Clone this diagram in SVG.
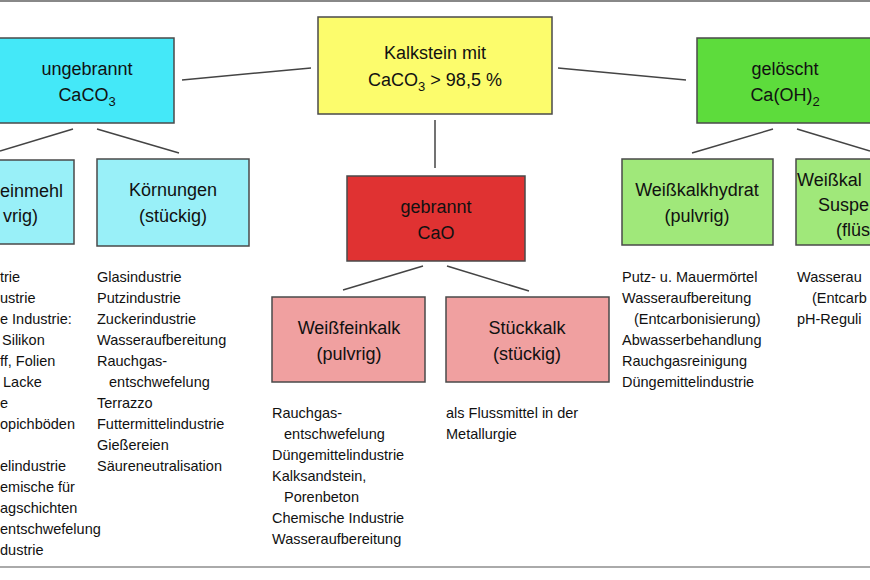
<svg xmlns="http://www.w3.org/2000/svg" width="870" height="580" viewBox="0 0 870 580">
<style>
.b{stroke:#4a4a4a;stroke-width:1.5}
.t{font-family:"Liberation Sans",Arial,sans-serif;font-size:18px;fill:#111;text-anchor:middle}
.s{font-family:"Liberation Sans",Arial,sans-serif;font-size:18px;fill:#111}
.l{font-family:"Liberation Sans",Arial,sans-serif;font-size:14.5px;fill:#111}
.c{stroke:#444;stroke-width:1.5}
</style>
<rect width="870" height="580" fill="#fff"/>
<line x1="0" y1="1" x2="870" y2="1" stroke="#888" stroke-width="2"/>
<line x1="0" y1="567" x2="870" y2="567" stroke="#aaa" stroke-width="2"/>
<g id="connectors">
<line class="c" x1="182" y1="80" x2="311" y2="68"/>
<line class="c" x1="558" y1="68" x2="686" y2="80"/>
<line class="c" x1="435" y1="120" x2="435" y2="168"/>
<line class="c" x1="423" y1="266" x2="343" y2="290"/>
<line class="c" x1="447" y1="266" x2="529" y2="291"/>
<line class="c" x1="73" y1="129" x2="0" y2="151"/>
<line class="c" x1="97" y1="129" x2="179" y2="153"/>
<line class="c" x1="773" y1="129" x2="692" y2="153"/>
<line class="c" x1="797" y1="129" x2="870" y2="151"/>
</g>
<g id="kalkstein">
<rect class="b" x="318" y="17" width="234" height="97" fill="#fcfc6c"/>
<text class="t" x="435" y="59">Kalkstein mit</text>
<text class="t" x="435" y="86">CaCO<tspan font-size="13" dy="5">3</tspan><tspan dy="-5"> &gt; 98,5 %</tspan></text>
</g>
<g id="ungebrannt">
<rect class="b" x="-2" y="38" width="176" height="85" fill="#44e8f8"/>
<text class="t" x="87" y="75">ungebrannt</text>
<text class="t" x="87" y="101">CaCO<tspan font-size="13" dy="5">3</tspan></text>
</g>
<g id="geloescht">
<rect class="b" x="697" y="38" width="180" height="85" fill="#5ddc3c"/>
<text class="t" x="785" y="75">gelöscht</text>
<text class="t" x="785" y="101">Ca(OH)<tspan font-size="13" dy="5">2</tspan></text>
</g>
<g id="gebrannt">
<rect class="b" x="347" y="176" width="178" height="85" fill="#e03232"/>
<text class="t" x="436" y="213">gebrannt</text>
<text class="t" x="436" y="239">CaO</text>
</g>
<g id="feinmehl">
<rect class="b" x="-2" y="160" width="76" height="84" fill="#99f0f8"/>
<text class="s" x="0" y="197">einmehl</text>
<text class="s" x="3" y="222">vrig)</text>
<g class="l">
<text x="0" y="282">trie</text>
<text x="0" y="303">ustrie</text>
<text x="0" y="324">e Industrie:</text>
<text x="2" y="345">Silikon</text>
<text x="0" y="366">ff, Folien</text>
<text x="3" y="387">Lacke</text>
<text x="0" y="408">e</text>
<text x="0" y="429">opichböden</text>
<text x="0" y="471">elindustrie</text>
<text x="0" y="492">emische für</text>
<text x="0" y="513">agschichten</text>
<text x="0" y="534">entschwefelung</text>
<text x="0" y="555">dustrie</text>
</g>
</g>
<g id="koernungen">
<rect class="b" x="97" y="159" width="152" height="87" fill="#99f0f8"/>
<text class="t" x="173" y="196">Körnungen</text>
<text class="t" x="173" y="222">(stückig)</text>
<g class="l">
<text x="97" y="282">Glasindustrie</text>
<text x="97" y="303">Putzindustrie</text>
<text x="97" y="324">Zuckerindustrie</text>
<text x="97" y="345">Wasseraufbereitung</text>
<text x="97" y="366">Rauchgas-</text>
<text x="109" y="387">entschwefelung</text>
<text x="97" y="408">Terrazzo</text>
<text x="97" y="429">Futtermittelindustrie</text>
<text x="97" y="450">Gießereien</text>
<text x="97" y="471">Säureneutralisation</text>
</g>
</g>
<g id="weissfeinkalk">
<rect class="b" x="272" y="297" width="153" height="85" fill="#f0a0a0"/>
<text class="t" x="349" y="334">Weißfeinkalk</text>
<text class="t" x="349" y="360">(pulvrig)</text>
<g class="l">
<text x="272" y="418">Rauchgas-</text>
<text x="284" y="439">entschwefelung</text>
<text x="272" y="460">Düngemittelindustrie</text>
<text x="272" y="481">Kalksandstein,</text>
<text x="284" y="502">Porenbeton</text>
<text x="272" y="523">Chemische Industrie</text>
<text x="272" y="544">Wasseraufbereitung</text>
</g>
</g>
<g id="stueckkalk">
<rect class="b" x="446" y="297" width="163" height="85" fill="#f0a0a0"/>
<text class="t" x="527" y="334">Stückkalk</text>
<text class="t" x="527" y="360">(stückig)</text>
<g class="l">
<text x="446" y="418">als Flussmittel in der</text>
<text x="446" y="439">Metallurgie</text>
</g>
</g>
<g id="weisskalkhydrat">
<rect class="b" x="622" y="159" width="151" height="86" fill="#a0e87a"/>
<text class="t" x="697" y="196">Weißkalkhydrat</text>
<text class="t" x="697" y="222">(pulvrig)</text>
<g class="l">
<text x="622" y="282">Putz- u. Mauermörtel</text>
<text x="622" y="303">Wasseraufbereitung</text>
<text x="634" y="324">(Entcarbonisierung)</text>
<text x="622" y="345">Abwasserbehandlung</text>
<text x="622" y="366">Rauchgasreinigung</text>
<text x="622" y="387">Düngemittelindustrie</text>
</g>
</g>
<g id="suspension">
<rect class="b" x="796" y="159" width="80" height="86" fill="#a0e87a"/>
<text class="s" x="797" y="186">Weißkal</text>
<text class="s" x="818" y="211">Suspe</text>
<text class="s" x="836" y="236">(flüs</text>
<g class="l">
<text x="797" y="282">Wasserau</text>
<text x="812" y="303">(Entcarb</text>
<text x="797" y="324">pH-Reguli</text>
</g>
</g>
</svg>
